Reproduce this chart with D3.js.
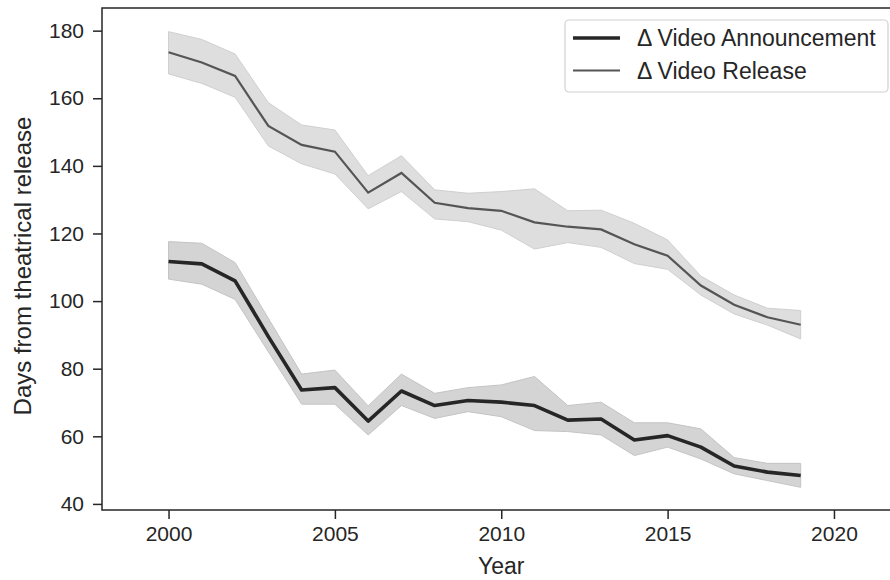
<!DOCTYPE html>
<html>
<head>
<meta charset="utf-8">
<script src="https://cdn.jsdelivr.net/npm/d3@7"></script>
<style>
  body { margin: 0; background: #fff; }
  svg { display: block; font-family: "Liberation Sans", Arial, sans-serif; }
</style>
</head>
<body>
<svg id="chart" width="890" height="580"></svg>
<script>
const years = [2000,2001,2002,2003,2004,2005,2006,2007,2008,2009,2010,2011,2012,2013,2014,2015,2016,2017,2018,2019];

const announceMean  = [111.7,111.0,106.0,89.5,73.7,74.4,64.5,73.4,69.1,70.6,70.1,69.1,64.8,65.1,58.9,60.2,56.8,51.2,49.4,48.4];
const announceUpper = [117.6,117.1,111.4,94.9,78.4,79.6,69.0,78.4,72.7,74.4,75.2,77.7,69.1,70.1,64.0,64.0,62.2,53.7,52.0,52.0];
const announceLower = [106.5,105.0,100.5,85.0,69.5,69.5,60.4,69.1,65.3,67.3,65.8,61.7,61.4,60.4,54.3,56.8,53.3,48.9,46.9,44.9];

const releaseMean  = [173.6,170.6,166.6,151.8,146.2,144.2,132.1,137.9,129.1,127.5,126.7,123.3,122.0,121.2,116.8,113.4,104.6,98.9,95.2,93.0];
const releaseUpper = [179.7,177.4,173.1,158.7,152.1,150.6,137.1,143.0,132.9,131.9,132.4,133.2,126.7,126.9,123.0,118.1,107.4,101.8,97.9,97.2];
const releaseLower = [167.2,164.4,160.3,145.9,140.6,137.6,127.3,132.4,124.3,123.5,121.0,115.4,117.3,115.9,111.1,109.4,101.8,96.2,92.9,88.8];

const xTicks = [2000,2005,2010,2015,2020];
const yTicks = [40,60,80,100,120,140,160,180];
const seriesNames = ["\u0394 Video Announcement","\u0394 Video Release"];

const svg = d3.select("#chart");
const L = 102, T = 8, B = 510, R = 900.5;
const x = d3.scaleLinear().domain([1998, 2022]).range([L, R]);
const y = d3.scaleLinear().domain([38.2, 186.7]).range([B, T]);
const textColor = "#262626";

function series(mean, upper, lower) {
  return years.map((yr,i) => ({x: yr, m: mean[i], u: upper[i], l: lower[i]}));
}
const sA = series(announceMean, announceUpper, announceLower);
const sR = series(releaseMean, releaseUpper, releaseLower);

const area = d3.area().x(d => x(d.x)).y0(d => y(d.l)).y1(d => y(d.u));
const line = d3.line().x(d => x(d.x)).y(d => y(d.m));

// bands
svg.append("path").datum(sR).attr("d", area)
  .attr("fill", "#dedede").attr("stroke", "#cfcfcf").attr("stroke-width", 1);
svg.append("path").datum(sA).attr("d", area)
  .attr("fill", "#d4d4d4").attr("stroke", "#c4c4c4").attr("stroke-width", 1);

// lines
svg.append("path").datum(sR).attr("d", line)
  .attr("fill", "none").attr("stroke", "#555555").attr("stroke-width", 2.2);
svg.append("path").datum(sA).attr("d", line)
  .attr("fill", "none").attr("stroke", "#262626").attr("stroke-width", 3.6)
  .attr("stroke-linejoin", "round");

// axes
const xAxis = svg.append("g").attr("transform", `translate(0,${B})`)
  .call(d3.axisBottom(x).tickValues(xTicks).tickFormat(d3.format("d")).tickSize(9).tickPadding(7));
const yAxis = svg.append("g").attr("transform", `translate(${L},0)`)
  .call(d3.axisLeft(y).tickValues(yTicks).tickSize(9).tickPadding(9));
[xAxis, yAxis].forEach(g => {
  g.select(".domain").remove();
  g.selectAll("line").attr("stroke", textColor).attr("stroke-width", 1.5);
  g.selectAll("text").attr("fill", textColor).style("font-size", "21px")
    .style("font-family", "'Liberation Sans', Arial, sans-serif");
});

// spines
svg.append("rect").attr("x", L).attr("y", T).attr("width", R - L).attr("height", B - T)
  .attr("fill", "none").attr("stroke", textColor).attr("stroke-width", 1.5);

// axis labels
svg.append("text").attr("x", (L + R) / 2).attr("y", 574)
  .attr("text-anchor", "middle").attr("fill", textColor).style("font-size", "23px").text("Year");
svg.append("text").attr("transform", `translate(31,${(T + B) / 2 + 7}) rotate(-90)`)
  .attr("text-anchor", "middle").attr("fill", textColor).style("font-size", "24px")
  .text("Days from theatrical release");

// legend
const lg = svg.append("g");
lg.append("rect").attr("x", 565).attr("y", 20).attr("width", 323).attr("height", 72)
  .attr("rx", 4).attr("fill", "#fff").attr("fill-opacity", 0.8)
  .attr("stroke", "#d0d0d0").attr("stroke-width", 1.2);
const lgItems = [
  {name: seriesNames[0], color: "#262626", w: 3.6},
  {name: seriesNames[1], color: "#555555", w: 2.2}
];
lgItems.forEach((d, i) => {
  const yy = 38 + i * 32.5;
  lg.append("line").attr("x1", 573).attr("x2", 620).attr("y1", yy).attr("y2", yy)
    .attr("stroke", d.color).attr("stroke-width", d.w);
  lg.append("text").attr("x", 637).attr("y", yy).attr("dy", "0.35em")
    .attr("fill", textColor).style("font-size", "23px").text(d.name);
});
</script>
</body>
</html>
